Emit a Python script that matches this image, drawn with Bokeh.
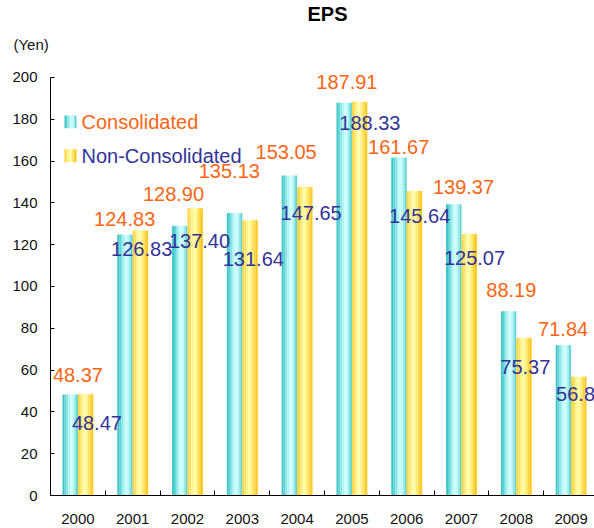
from bokeh.plotting import figure
from bokeh.models import Range1d, FixedTicker, ColumnDataSource, Title
from bokeh.core.properties import value
from bokeh.embed import file_html
from bokeh.resources import INLINE

# ---- data ----
years = ["2000", "2001", "2002", "2003", "2004", "2005", "2006", "2007", "2008", "2009"]
consolidated = [48.37, 124.83, 128.90, 135.13, 153.05, 187.91, 161.67, 139.37, 88.19, 71.84]
non_consolidated = [48.47, 126.83, 137.40, 131.64, 147.65, 188.33, 145.64, 125.07, 75.37, 56.85]
y_ticks = [0, 20, 40, 60, 80, 100, 120, 140, 160, 180, 200]

# ---- label placement (pixel offsets from category centre / bar top) ----
cons_dx = [0, -8, -14, -13, -11, -5, -8, 2, -5, -8]
cons_dy = [-19, -16, -32, -42, -24, -21, -11, -17, -21, -16]
non_dx = [19, 9, 12, 11, 14, 18, 13, 13, 9, 10]
non_dy = [29, 19, 33, 39, 26, 21, 25, 24, 29, 17]

FONT = "Liberation Sans"
ORANGE = "#ff6414"
NAVY = "#333399"
cyan_grad = ["#3ec6c6", "#5cd4d4", "#8ae6e6", "#b2f4f4", "#ccffff", "#c2fbfb", "#9aecec", "#62d4d4"]
yellow_grad = ["#ffd43e", "#ffe268", "#fff08e", "#ffffa0", "#fff694", "#ffe66a", "#ffd640", "#ffc81e"]

n = len(years)
bar_w = 0.281

p = figure(width=594, height=528, output_backend="svg", toolbar_location=None,
           x_range=Range1d(0, 9.927), y_range=Range1d(0, 207.64),
           min_border_left=50, min_border_right=0, min_border_top=60, min_border_bottom=33)
p.outline_line_color = None
p.grid.visible = False
p.background_fill_color = "white"
p.border_fill_color = "white"

# titles: "EPS" outermost, "(Yen)" nearest the frame
p.title.text = "EPS"
p.title.align = "left"
p.title.offset = 257
p.title.text_font = FONT
p.title.text_font_size = "20px"
p.title.text_font_style = "bold"
p.title.text_color = "black"
p.title.standoff = 0
p.add_layout(Title(text="(Yen)", align="left", offset=-37, text_font=FONT, text_font_size="15px",
                   text_font_style="normal", text_color="#111111", standoff=18), "above")

centers = [i + 0.5 for i in range(n)]


def gradient_bars(xc, tops, width, colors):
    k = len(colors)
    sw = width / k
    for j, col in enumerate(colors):
        xs = [x - width / 2 + sw * (j + 0.5) for x in xc]
        p.vbar(x=xs, top=tops, bottom=0, width=sw * 1.02, fill_color=col, line_color=None)


gradient_bars([c - bar_w / 2 for c in centers], consolidated, bar_w, cyan_grad)
gradient_bars([c + bar_w / 2 for c in centers], non_consolidated, bar_w, yellow_grad)

# data labels
src_c = ColumnDataSource(dict(x=centers, y=consolidated, t=[f"{v:.2f}" for v in consolidated],
                              dx=cons_dx, dy=cons_dy))
src_n = ColumnDataSource(dict(x=centers, y=non_consolidated, t=[f"{v:.2f}" for v in non_consolidated],
                              dx=non_dx, dy=non_dy))
p.text(x="x", y="y", text="t", x_offset="dx", y_offset="dy", source=src_c,
       text_font=value(FONT), text_font_size="20px", text_color=ORANGE,
       text_align="center", text_baseline="middle")
p.text(x="x", y="y", text="t", x_offset="dx", y_offset="dy", source=src_n,
       text_font=value(FONT), text_font_size="20px", text_color=NAVY,
       text_align="center", text_baseline="middle")


# legend (manual)
def swatch(left, right, bottom, top, colors):
    k = len(colors)
    sw = (right - left) / k
    for j, col in enumerate(colors):
        p.quad(left=[left + sw * j], right=[left + sw * (j + 1) + sw * 0.02], bottom=[bottom], top=[top],
               fill_color=col, line_color=None)


swatch(0.2555, 0.4745, 175.66, 181.86, cyan_grad)
swatch(0.2555, 0.4745, 159.43, 165.63, yellow_grad)
p.text(x=[0.5657], y=[178.5], text=["Consolidated"], text_font=value(FONT), text_font_size="20px",
       text_color=ORANGE, text_align="left", text_baseline="middle")
p.text(x=[0.5657], y=[162.5], text=["Non-Consolidated"], text_font=value(FONT), text_font_size="20px",
       text_color=NAVY, text_align="left", text_baseline="middle")

# axes
yax = p.yaxis[0]
yax.ticker = FixedTicker(ticks=y_ticks)
yax.bounds = (0, 200)
yax.axis_line_color = "black"
yax.major_tick_in = 4
yax.major_tick_out = 0
yax.major_tick_line_color = "black"
yax.minor_tick_line_color = None
yax.major_label_standoff = 13
yax.major_label_text_font = FONT
yax.major_label_text_font_size = "15px"
yax.major_label_text_color = "#111111"

xax = p.xaxis[0]
xax.ticker = FixedTicker(ticks=centers, minor_ticks=list(range(n + 1)))
xax.major_label_overrides = {c: y for c, y in zip(centers, years)}
xax.axis_line_color = "black"
xax.major_tick_line_color = None
xax.minor_tick_line_color = "black"
xax.minor_tick_in = 5
xax.minor_tick_out = 0
xax.major_label_standoff = 12
xax.major_label_text_font = FONT
xax.major_label_text_font_size = "15px"
xax.major_label_text_color = "#111111"

open("out.html", "w").write(file_html(p, INLINE))
